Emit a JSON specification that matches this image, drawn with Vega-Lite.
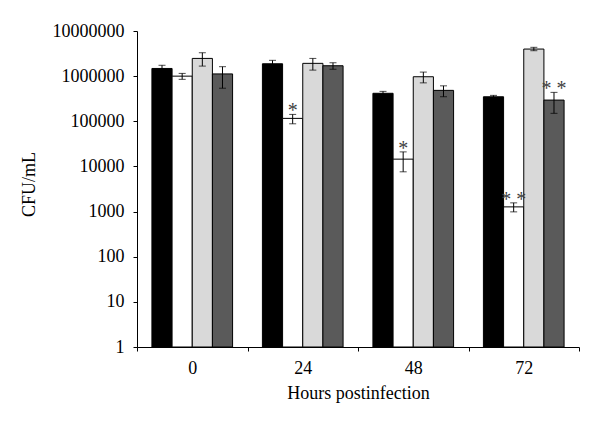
{
  "$schema": "https://vega.github.io/schema/vega-lite/v6.json",
  "width": 442,
  "height": 316,
  "autosize": {"type": "none"},
  "padding": {"left": 137, "top": 31, "right": 21, "bottom": 78},
  "background": "white",
  "config": {"view": {"stroke": null}, "font": "Liberation Serif"},
  "data": {
    "values": [
      {"hour": "0", "series": "S1", "mean": 1480000, "lo": 1220000, "hi": 1740000, "sig": ""},
      {"hour": "0", "series": "S2", "mean": 1000000, "lo": 850000, "hi": 1150000, "sig": ""},
      {"hour": "0", "series": "S3", "mean": 2470000, "lo": 1670000, "hi": 3300000, "sig": ""},
      {"hour": "0", "series": "S4", "mean": 1120000, "lo": 540000, "hi": 1620000, "sig": ""},
      {"hour": "24", "series": "S1", "mean": 1880000, "lo": 1520000, "hi": 2240000, "sig": ""},
      {"hour": "24", "series": "S2", "mean": 116000, "lo": 88000, "hi": 142000, "sig": "*"},
      {"hour": "24", "series": "S3", "mean": 1920000, "lo": 1360000, "hi": 2470000, "sig": ""},
      {"hour": "24", "series": "S4", "mean": 1700000, "lo": 1420000, "hi": 1980000, "sig": ""},
      {"hour": "48", "series": "S1", "mean": 417000, "lo": 374000, "hi": 460000, "sig": ""},
      {"hour": "48", "series": "S2", "mean": 14500, "lo": 7600, "hi": 21000, "sig": "*"},
      {"hour": "48", "series": "S3", "mean": 970000, "lo": 710000, "hi": 1230000, "sig": ""},
      {"hour": "48", "series": "S4", "mean": 484000, "lo": 350000, "hi": 610000, "sig": ""},
      {"hour": "72", "series": "S1", "mean": 349000, "lo": 323000, "hi": 375000, "sig": ""},
      {"hour": "72", "series": "S2", "mean": 1270, "lo": 985, "hi": 1560, "sig": "* *"},
      {"hour": "72", "series": "S3", "mean": 3980000, "lo": 3660000, "hi": 4350000, "sig": ""},
      {"hour": "72", "series": "S4", "mean": 295000, "lo": 150000, "hi": 437000, "sig": "* *"}
    ]
  },
  "encoding": {
    "x": {
      "field": "hour",
      "type": "ordinal",
      "sort": ["0", "24", "48", "72"],
      "scale": {"paddingInner": 0, "paddingOuter": 0},
      "axis": {
        "title": "Hours postinfection",
        "titleFontSize": 18,
        "titleFontWeight": "normal",
        "titleColor": "black",
        "titleFont": "Liberation Serif",
        "titlePadding": 7,
        "labelAngle": 0,
        "labelFontSize": 18,
        "labelColor": "black",
        "labelFont": "Liberation Serif",
        "labelPadding": 8,
        "tickBand": "extent",
        "tickSize": 4,
        "tickColor": "black",
        "domainColor": "black",
        "grid": false
      }
    },
    "xOffset": {
      "field": "series",
      "type": "nominal",
      "sort": ["S1", "S2", "S3", "S4"],
      "scale": {"paddingInner": 0, "paddingOuter": 0.74}
    }
  },
  "layer": [
    {
      "mark": {"type": "bar", "stroke": "black", "strokeWidth": 1},
      "encoding": {
        "y": {
          "field": "mean",
          "type": "quantitative",
          "title": "CFU/mL",
          "scale": {"type": "log", "domain": [1, 10000000], "nice": false},
          "axis": {
            "values": [1, 10, 100, 1000, 10000, 100000, 1000000, 10000000],
            "format": "d",
            "grid": false,
            "tickSize": 4,
            "tickColor": "black",
            "domainColor": "black",
            "labelFontSize": 18,
            "labelColor": "black",
            "labelFont": "Liberation Serif",
            "labelPadding": 9,
            "titleFontSize": 18,
            "titleFontWeight": "normal",
            "titleColor": "black",
            "titleFont": "Liberation Serif",
            "titleX": -108,
            "titleY": 153,
            "titleAngle": -90,
            "titleAlign": "center",
            "titleBaseline": "middle"
          }
        },
        "y2": {"datum": 1},
        "color": {
          "field": "series",
          "type": "nominal",
          "scale": {"domain": ["S1", "S2", "S3", "S4"], "range": ["#000000", "#ffffff", "#d9d9d9", "#5a5a5a"]},
          "legend": null
        }
      }
    },
    {
      "mark": {"type": "rule", "color": "black", "strokeWidth": 1},
      "encoding": {
        "y": {"field": "lo", "type": "quantitative", "title": "CFU/mL"},
        "y2": {"field": "hi"}
      }
    },
    {
      "mark": {"type": "tick", "color": "black", "size": 7, "thickness": 1, "orient": "horizontal"},
      "encoding": {"y": {"field": "hi", "type": "quantitative", "title": "CFU/mL"}}
    },
    {
      "mark": {"type": "tick", "color": "black", "size": 7, "thickness": 1, "orient": "horizontal"},
      "encoding": {"y": {"field": "lo", "type": "quantitative", "title": "CFU/mL"}}
    },
    {
      "transform": [{"filter": "datum.sig != ''"}],
      "mark": {"type": "text", "font": "Liberation Serif", "fontSize": 20, "baseline": "middle", "dy": -3, "color": "#404040"},
      "encoding": {
        "y": {"field": "hi", "type": "quantitative", "title": "CFU/mL"},
        "text": {"field": "sig"}
      }
    }
  ]
}
